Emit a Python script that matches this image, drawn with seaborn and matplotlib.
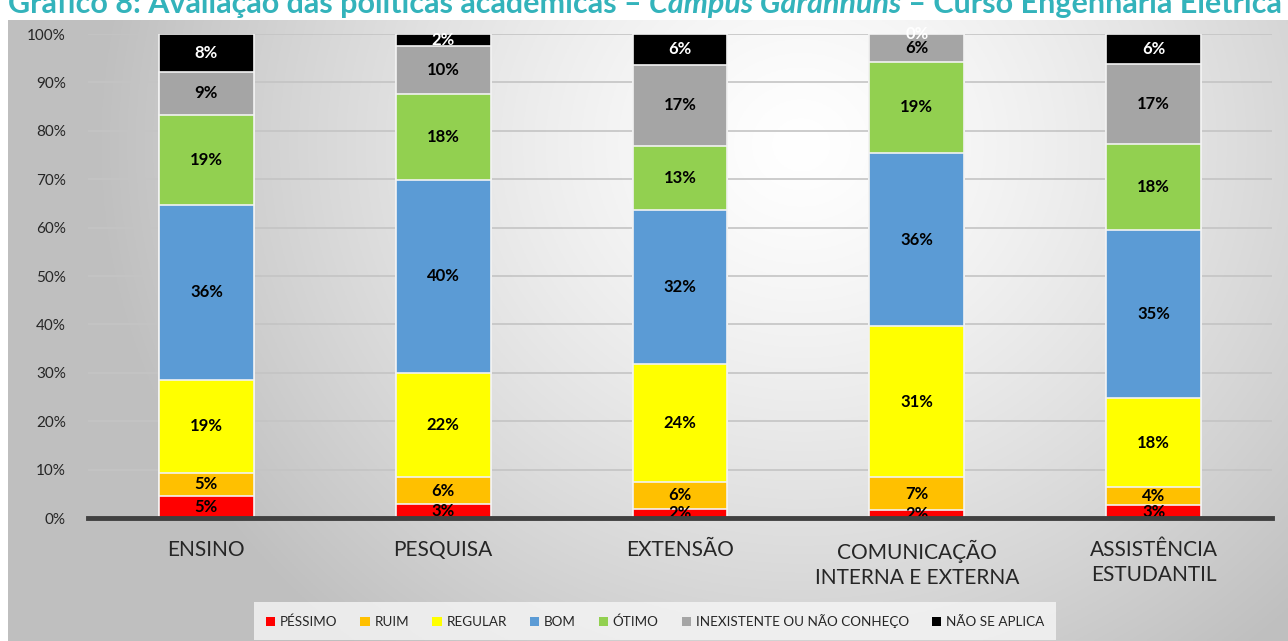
import numpy as np
import pandas as pd
import seaborn as sns
import matplotlib.pyplot as plt
from matplotlib.patches import Patch

categorias = ["ENSINO", "PESQUISA", "EXTENSÃO", "COMUNICAÇÃO\nINTERNA E EXTERNA", "ASSISTÊNCIA\nESTUDANTIL"]
series = ["PÉSSIMO", "RUIM", "REGULAR", "BOM", "ÓTIMO", "INEXISTENTE OU NÃO CONHEÇO", "NÃO SE APLICA"]

pessimo = [4.6, 2.8, 1.9, 1.6, 2.6]
ruim = [4.7, 5.6, 5.6, 6.9, 3.8]
regular = [19.3, 21.6, 24.4, 31.1, 18.3]
bom = [36.0, 39.9, 31.8, 35.8, 34.8]
otimo = [18.7, 17.6, 13.2, 18.9, 17.8]
inexistente = [8.9, 10.1, 16.7, 5.6, 16.6]
nao_aplica = [7.8, 2.4, 6.4, 0.1, 6.1]

cores = ["#ff0000", "#ffc000", "#ffff00", "#5b9bd5", "#92d050", "#a5a5a5", "#000000"]

valores = [pessimo, ruim, regular, bom, otimo, inexistente, nao_aplica]
df = pd.DataFrame(dict(zip(series, valores)), index=categorias) / 100
acum = df.cumsum(axis=1)

sns.set_theme(style="white")
plt.rcParams['font.family'] = ['Lato', 'DejaVu Sans']

fig = plt.figure(figsize=(12.88, 6.41), dpi=100)
fig.patch.set_facecolor("white")

# fundo com gradiente radial
bg = fig.add_axes([8 / 1288, 0, 1 - 8 / 1288, 1 - 20 / 641])
yy, xx = np.mgrid[0:1:300j, 0:1:600j]
d = np.sqrt(((xx - 0.62) * 1.9) ** 2 + ((yy - 0.2) * 1.0) ** 2)
g = 1 - 0.25 * np.clip(d / 1.05, 0, 1) ** 1.3
bg.imshow(np.dstack([g, g, g]), aspect="auto", extent=[0, 1, 1, 0])
bg.set_axis_off()

ax = fig.add_axes([88 / 1288, 1 - 518 / 641, (1272 - 88) / 1288, (518 - 34) / 641])
ax.patch.set_alpha(0)

# barras empilhadas: desenha a soma acumulada do topo para a base
for i in range(len(series) - 1, -1, -1):
    sns.barplot(x=list(range(len(categorias))), y=acum.iloc[:, i].values, color=cores[i],
                width=0.4, edgecolor="#f2f2f2", linewidth=1.2, saturation=1, ax=ax, zorder=3)

for j in range(len(categorias)):
    base = 0
    for i, s in enumerate(series):
        v = df.iloc[j, i]
        cor = "white" if i == len(series) - 1 else "black"
        ax.text(j, base + v / 2, f"{v * 100:.0f}%", ha="center", va="center",
                fontsize=12, fontweight="bold", color=cor, zorder=5)
        base += v

ax.set_ylim(0, 1)
ax.set_xlim(-0.5, len(categorias) - 0.5)
ax.set_yticks(np.arange(0, 1.01, 0.1))
ax.set_yticklabels([f"{t}%" for t in range(0, 101, 10)], fontsize=11, color="#262626")
ax.set_xticks(range(len(categorias)))
ax.set_xticklabels(categorias, fontsize=15, color="#262626", linespacing=1.3)
ax.set_xticks(np.arange(-0.5, len(categorias), 1), minor=True)
ax.tick_params(axis="x", which="major", length=0, pad=16)
ax.tick_params(axis="x", which="minor", length=7, width=3, color="#404040", direction="out")
ax.tick_params(axis="y", length=0, pad=16)
ax.yaxis.grid(True, color="#c4c4c4", linewidth=1.2, zorder=0)
ax.set_axisbelow(True)
for sp in ["left", "right", "top"]:
    ax.spines[sp].set_visible(False)
ax.spines["bottom"].set_color("#404040")
ax.spines["bottom"].set_linewidth(3.5)
ax.spines["bottom"].set_zorder(6)
ax.set_xlabel("")
ax.set_ylabel("")

handles = [Patch(facecolor=c, edgecolor="none", label=s) for s, c in zip(series, cores)]
leg = fig.legend(handles=handles, loc="center", bbox_to_anchor=(655 / 1288, 1 - 621 / 641),
                 ncol=7, fontsize=9.7, frameon=True, fancybox=False, handlelength=0.7,
                 handleheight=0.7, handletextpad=0.35, columnspacing=1.7, borderpad=0.9)
leg.get_frame().set_facecolor("#f6f6f6")
leg.get_frame().set_edgecolor("none")

# título (cortado no topo, como na imagem)
ty = 1 - 13 / 641
t1 = fig.text(8 / 1288, ty, "Gráfico 8: Avaliação das políticas acadêmicas – ",
              fontsize=22, fontweight="bold", color="#33b3bb", va="baseline")
t2 = fig.text(0, ty, "Campus Garanhuns", fontsize=22, fontweight="bold", style="italic",
              color="#33b3bb", va="baseline")
t3 = fig.text(0, ty, " – Curso Engenharia Elétrica", fontsize=22, fontweight="bold",
              color="#33b3bb", va="baseline")
fig.canvas.draw()
r = fig.canvas.get_renderer()
tr = fig.transFigure.inverted()
x1 = tr.transform(t1.get_window_extent(r))[1, 0]
t2.set_position((x1, ty))
x2 = tr.transform(t2.get_window_extent(r))[1, 0]
t3.set_position((x2, ty))

fig.savefig("out.png", dpi=100)
